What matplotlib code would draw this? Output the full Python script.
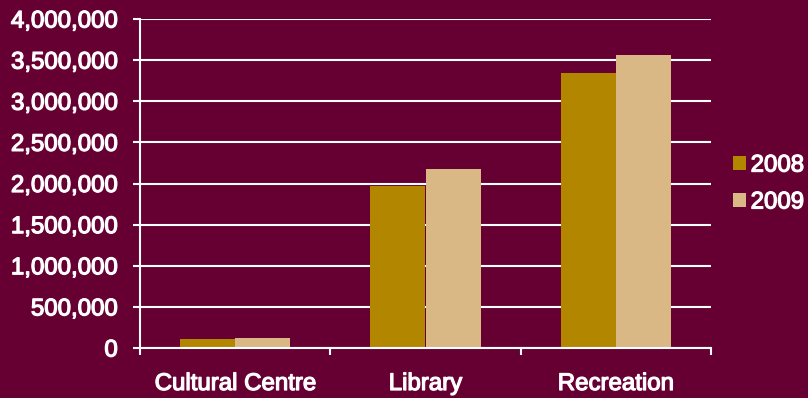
import matplotlib
matplotlib.use("Agg")
import matplotlib.pyplot as plt
import matplotlib.patheffects as pe
import numpy as np
from matplotlib.ticker import FuncFormatter

# data
categories = ["Cultural Centre", "Library", "Recreation"]
years = ["2008", "2009"]
values_2008 = [105000, 1970000, 3345000]
values_2009 = [125000, 2175000, 3560000]

bg = "#660033"
col_2008 = "#B38600"
col_2009 = "#D9B886"

plt.rcParams["font.family"] = ["Liberation Sans", "DejaVu Sans"]

fig = plt.figure(figsize=(8.08, 3.98), dpi=100, facecolor=bg)
ax = fig.add_axes([140 / 808, 50 / 398, 571 / 808, 329 / 398], facecolor=bg)

x = np.arange(len(categories))
w = 0.29
ax.bar(x - w / 2, values_2008, w, color=col_2008, label=years[0], zorder=3, linewidth=0)
ax.bar(x + w / 2, values_2009, w, color=col_2009, label=years[1], zorder=3, linewidth=0)

ax.set_xlim(-0.5, 2.5)
ax.set_ylim(0, 4000000)
ax.set_yticks(np.arange(0, 4000001, 500000))
ax.yaxis.set_major_formatter(FuncFormatter(lambda v, p: f"{int(v):,}"))

# category boundaries as ticks, names as minor ticks in the middle
ax.set_xticks([-0.5, 0.5, 1.5, 2.5])
ax.set_xticklabels([])
ax.set_xticks(x, minor=True)
ax.set_xticklabels(categories, minor=True)
ax.tick_params(axis="x", which="minor", length=0, pad=18, labelsize=17.3, colors="white")
ax.tick_params(axis="x", which="major", length=5, width=1.5, color="white")
ax.tick_params(axis="y", length=5, width=1.5, color="white", labelcolor="white",
               labelsize=17.3, pad=11)

ax.grid(axis="y", color="white", linewidth=1.5, zorder=0)
for s in ["top", "right"]:
    ax.spines[s].set_visible(False)
for s in ["left", "bottom"]:
    ax.spines[s].set_color("white")
    ax.spines[s].set_linewidth(1.5)
    ax.spines[s].set_zorder(4)

leg = ax.legend(loc="center left", bbox_to_anchor=(723 / 808, 1 - 184 / 398),
                bbox_transform=fig.transFigure, frameon=False, fontsize=17.3,
                handlelength=0.55, handleheight=0.55, handletextpad=0.2,
                labelspacing=0.62, borderaxespad=0)

# slightly heavier text, like the reference
thick = [pe.withStroke(linewidth=0.9, foreground="white")]
for t in leg.get_texts() + ax.get_yticklabels() + ax.get_xticklabels(minor=True):
    t.set_color("white")
    t.set_path_effects(thick)

fig.savefig("out.png", dpi=100, facecolor=bg)
